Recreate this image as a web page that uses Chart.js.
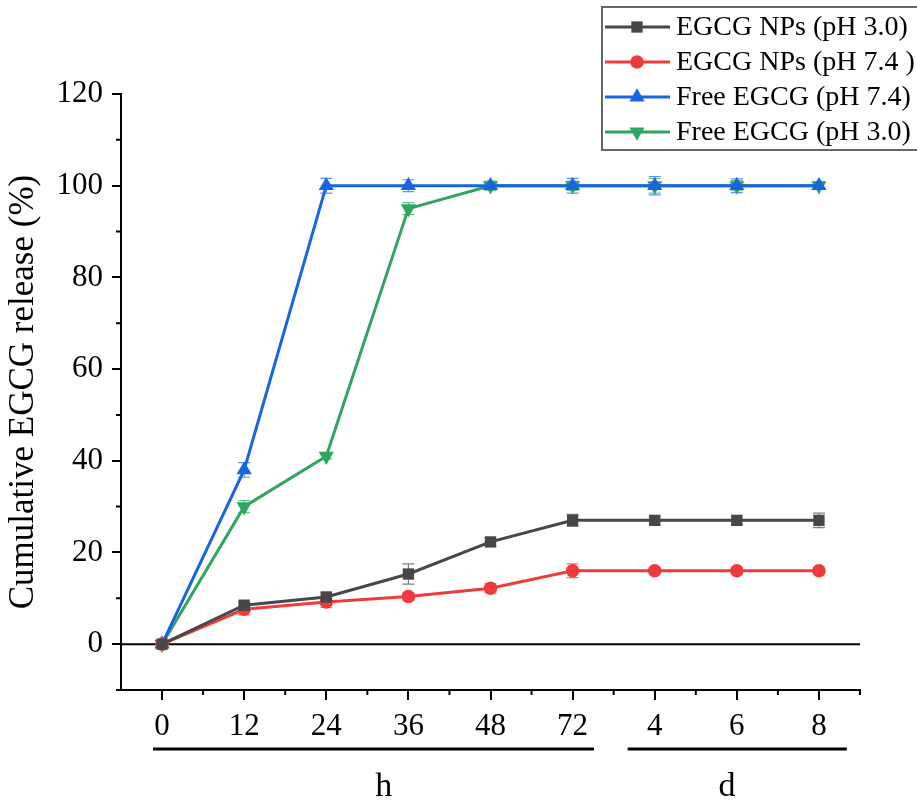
<!DOCTYPE html>
<html>
<head>
<meta charset="utf-8">
<script src="https://cdn.jsdelivr.net/npm/chart.js@4.4.1/dist/chart.umd.min.js"></script>
<style>
  html, body { margin: 0; padding: 0; background: #fff; }
  #wrap { width: 917px; height: 802px; }
</style>
</head>
<body>
<div id="wrap"><canvas id="c"></canvas></div>
<script>
const timeLabels = ['0', '12', '24', '36', '48', '72', '4', '6', '8']
const yTicks = [0, 20, 40, 60, 80, 100, 120]
const seriesNames = ['EGCG NPs (pH 3.0)', 'EGCG NPs (pH 7.4 )', 'Free EGCG (pH 7.4)', 'Free EGCG (pH 3.0)']
const unitNames = ['h', 'd']

const npsAcid = [0, 8.5, 10.3, 15.3, 22.3, 27, 27, 27, 27]
const npsAcidErr = [0.5, 0.6, 0.8, 2.2, 0.8, 1.3, 0.9, 0.9, 1.6]
const npsNeutral = [0, 7.6, 9.2, 10.4, 12.2, 16, 16, 16, 16]
const npsNeutralErr = [0.4, 1.2, 1.2, 0.8, 1.0, 1.5, 0.7, 0.7, 0.7]
const freeNeutral = [0, 38, 100, 100, 100, 100, 100, 100, 100]
const freeNeutralErr = [0.4, 1.6, 1.6, 1.3, 0.6, 1.6, 2.0, 1.5, 0.8]
const freeAcid = [0, 30, 41, 95, 100, 100, 100, 100, 100]
const freeAcidErr = [0.4, 1.3, 0.6, 1.3, 1.0, 1.0, 1.6, 1.1, 0.6]

const errors = [npsAcidErr, npsNeutralErr, freeNeutralErr, freeAcidErr]
const SERIF = "'Liberation Serif', 'Times New Roman', serif"

function series(label, data, color, pointStyle, radius, rotation = 0) {
  return {
    label,
    data,
    borderColor: color,
    backgroundColor: color,
    borderWidth: 3,
    pointStyle,
    pointRadius: radius,
    pointRotation: rotation,
    pointBorderWidth: 0,
    tension: 0
  }
}

const datasets = [
  series(seriesNames[0], npsAcid, '#474747', 'rect', 8),
  series(seriesNames[1], npsNeutral, '#ef3b3e', 'circle', 6.8),
  series(seriesNames[2], freeNeutral, '#1766e0', 'triangle', 8.8),
  series(seriesNames[3], freeAcid, '#2fa55e', 'triangle', 8.8, 180)
]

// error bars, zero line, minor ticks, unit brackets under x axis and the boxed legend
const decorations = {
  id: 'decorations',
  beforeDatasetsDraw(chart) {
    const { ctx, chartArea, scales: { x, y } } = chart
    ctx.save()
    ctx.strokeStyle = '#000'
    ctx.lineWidth = 2
    const y0 = y.getPixelForValue(0)
    ctx.beginPath()
    ctx.moveTo(chartArea.left, y0)
    ctx.lineTo(chartArea.right, y0)
    ctx.stroke()

    // minor ticks
    ctx.beginPath()
    for (let v = 0.5; v <= timeLabels.length - 0.5; v += 1) {
      const px = x.getPixelForValue(v)
      ctx.moveTo(px, chartArea.bottom)
      ctx.lineTo(px, chartArea.bottom + 5)
    }
    for (let v = -10; v < 120; v += 20) {
      const py = y.getPixelForValue(v)
      ctx.moveTo(chartArea.left, py)
      ctx.lineTo(chartArea.left - 5, py)
    }
    ctx.stroke()

    // error bars
    ctx.lineWidth = 1.2
    chart.data.datasets.forEach((ds, i) => {
      ctx.strokeStyle = ds.borderColor
      ctx.globalAlpha = 0.7
      ds.data.forEach((v, j) => {
        const e = errors[i][j]
        const px = x.getPixelForValue(j)
        const top = y.getPixelForValue(v + e)
        const bot = y.getPixelForValue(v - e)
        ctx.beginPath()
        ctx.moveTo(px, top); ctx.lineTo(px, bot)
        ctx.moveTo(px - 6, top); ctx.lineTo(px + 6, top)
        ctx.moveTo(px - 6, bot); ctx.lineTo(px + 6, bot)
        ctx.stroke()
      })
    })
    ctx.restore()
  },
  afterDraw(chart) {
    const { ctx, scales: { x } } = chart
    ctx.save()
    // unit brackets: hours under 0-72, days under 4-8
    const spans = [[-0.11, 5.26, 2.7], [5.67, 8.34, 6.88]]
    ctx.strokeStyle = '#000'
    ctx.fillStyle = '#000'
    ctx.lineWidth = 3
    ctx.font = '34px ' + SERIF
    ctx.textAlign = 'center'
    ctx.textBaseline = 'alphabetic'
    spans.forEach(([a, b, c], i) => {
      ctx.beginPath()
      ctx.moveTo(x.getPixelForValue(a), 749)
      ctx.lineTo(x.getPixelForValue(b), 749)
      ctx.stroke()
      ctx.fillText(unitNames[i], x.getPixelForValue(c), 796)
    })

    // legend
    ctx.strokeStyle = '#666'
    ctx.lineWidth = 2
    ctx.strokeRect(602, 7, 340, 143)
    ctx.font = '28px ' + SERIF
    ctx.textAlign = 'left'
    ctx.textBaseline = 'middle'
    chart.data.datasets.forEach((ds, i) => {
      const ry = 27 + i * 35
      ctx.strokeStyle = ds.borderColor
      ctx.lineWidth = 3
      ctx.beginPath()
      ctx.moveTo(605, ry)
      ctx.lineTo(670, ry)
      ctx.stroke()
      ctx.fillStyle = ds.backgroundColor
      Chart.helpers.drawPoint(ctx, {
        pointStyle: ds.pointStyle,
        radius: ds.pointRadius,
        rotation: ds.pointRotation,
        borderWidth: 0
      }, 637, ry)
      ctx.fillStyle = '#000'
      ctx.fillText(ds.label, 676, ry + 1)
    })
    ctx.restore()
  }
}

new Chart(document.getElementById('c'), {
  type: 'line',
  data: { labels: timeLabels, datasets },
  options: {
    animation: false,
    responsive: true,
    maintainAspectRatio: false,
    devicePixelRatio: 1,
    layout: { padding: { top: 94, right: 57, left: 0, bottom: 0 } },
    scales: {
      x: {
        offset: true,
        border: { color: '#000', width: 2 },
        grid: { drawOnChartArea: false, color: '#000', lineWidth: 2, tickLength: 10 },
        ticks: {
          color: '#000',
          font: { family: SERIF, size: 31 },
          padding: 8,
          maxRotation: 0,
          autoSkip: false
        },
        afterFit: s => { s.height = 112 }
      },
      y: {
        min: -10,
        max: 120,
        afterBuildTicks: s => { s.ticks = yTicks.map(v => ({ value: v })) },
        border: { color: '#000', width: 2 },
        grid: { drawOnChartArea: false, color: '#000', lineWidth: 2, tickLength: 9 },
        ticks: {
          color: '#000',
          font: { family: SERIF, size: 31 },
          padding: 9
        },
        title: {
          display: true,
          text: 'Cumulative EGCG release (%)',
          color: '#000',
          font: { family: SERIF, size: 35 },
          padding: { top: 3, bottom: 0 }
        },
        afterFit: s => { s.width = 121 }
      }
    },
    plugins: {
      legend: { display: false },
      tooltip: { enabled: false }
    }
  },
  plugins: [decorations]
})
</script>
</body>
</html>
